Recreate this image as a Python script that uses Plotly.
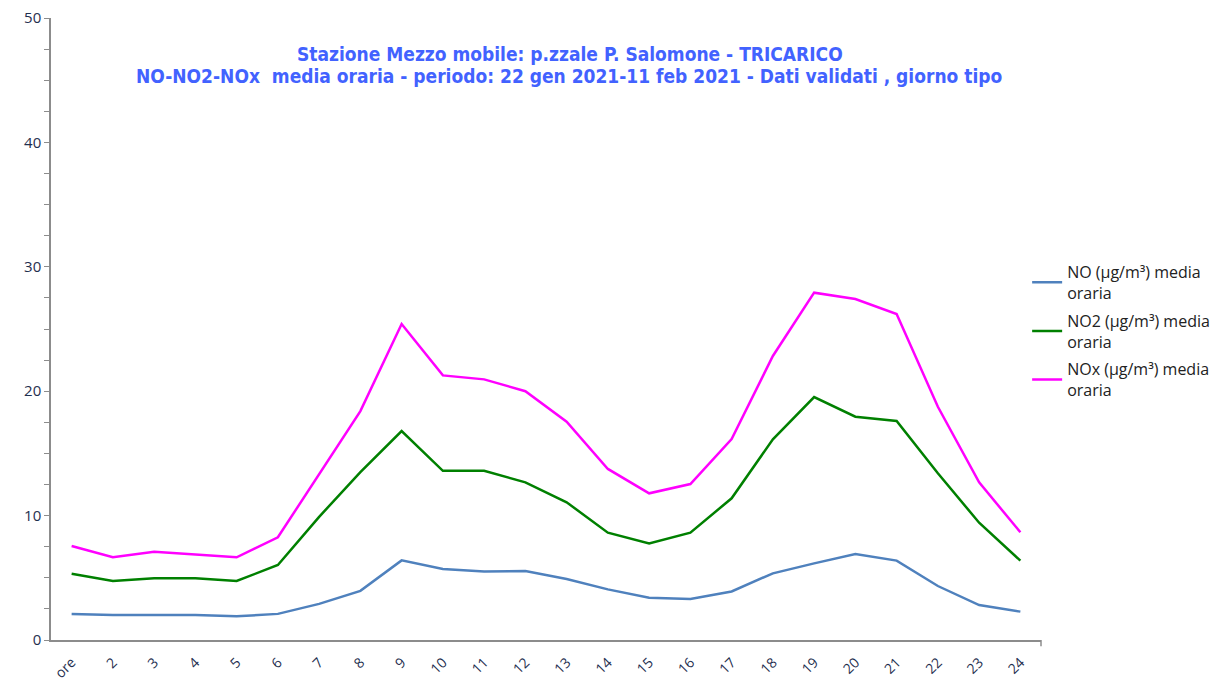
import plotly.graph_objects as go

hours = ["ore"] + [str(i) for i in range(2, 25)]
no_vals = [2.1, 2.0, 2.0, 2.0, 1.9, 2.1, 2.9, 3.95, 6.4, 5.7, 5.5, 5.55,
           4.9, 4.07, 3.4, 3.3, 3.9, 5.36, 6.16, 6.91, 6.38, 4.34, 2.81, 2.28]
no2_vals = [5.33, 4.74, 4.96, 4.96, 4.74, 6.03, 9.9, 13.5, 16.8, 13.6, 13.6, 12.67,
            11.07, 8.63, 7.77, 8.63, 11.39, 16.13, 19.53, 17.95, 17.6, 13.4, 9.43, 6.38]
nox_vals = [7.56, 6.65, 7.1, 6.89, 6.65, 8.26, 13.37, 18.4, 25.4, 21.27, 20.95, 20.0,
            17.55, 13.75, 11.79, 12.54, 16.16, 22.83, 27.92, 27.41, 26.2, 18.75, 12.67, 8.66]

series_names = ["NO (µg/m³) media<br>oraria", "NO2 (µg/m³) media<br>oraria", "NOx (µg/m³) media<br>oraria"]
series_colors = ["#4F81BD", "#008000", "#FF00FF"]

title_lines = ["Stazione Mezzo mobile: p.zzale P. Salomone - TRICARICO",
               "NO-NO2-NOx  media oraria - periodo: 22 gen 2021-11 feb 2021 - Dati validati , giorno tipo"]

fig = go.Figure()
for i, (name, vals, col) in enumerate(zip(series_names, [no_vals, no2_vals, nox_vals], series_colors)):
    fig.add_trace(go.Scatter(x=hours, y=vals, mode="lines", name=name, legendgroup=f"g{i}",
                             line=dict(color=col, width=2.5)))

title_font = dict(family="DejaVu Sans Condensed, DejaVu Sans, sans-serif", size=19, color="#4262FF")
annotations = []
for line, ypos in zip(title_lines, [0.942, 0.907]):
    annotations.append(dict(text="<b>" + line + "</b>", xref="paper", yref="paper",
                            x=0.524, y=ypos, xanchor="center", yanchor="middle",
                            showarrow=False, font=title_font))

fig.update_layout(
    width=1226, height=682,
    margin=dict(l=43, r=193, t=10, b=50),
    paper_bgcolor="white", plot_bgcolor="white",
    font=dict(family="Open Sans, Liberation Sans, sans-serif", size=13, color="#1F2F4F"),
    showlegend=True,
    legend=dict(x=0.986, xanchor="left", y=0.619, yanchor="top",
                font=dict(size=16, color="#222222", family="Open Sans, sans-serif"),
                tracegroupgap=4, itemwidth=30, bgcolor="rgba(0,0,0,0)"),
    annotations=annotations,
)
fig.update_xaxes(type="category", range=[-0.5, 23.5], showline=True, linecolor="#8C8C8C", linewidth=1.5,
                 showgrid=False, ticks="", tickangle=-45, zeroline=False, automargin=False,
                 ticklabeloverflow="allow", ticklabelstandoff=7,
                 tickfont=dict(size=14, color="#1F2F4F"))
fig.update_yaxes(range=[0, 50], dtick=10, showline=True, linecolor="#8C8C8C", linewidth=1.5,
                 showgrid=False, ticks="outside", ticklen=5, tickcolor="#8C8C8C", zeroline=False,
                 automargin=False, ticklabeloverflow="allow",
                 minor=dict(dtick=2.5, ticks="outside", ticklen=5, tickcolor="#8C8C8C"),
                 tickfont=dict(size=15, color="#1F2F4F"))
fig.add_shape(type="line", xref="paper", yref="paper", x0=1, x1=1, y0=0, y1=-0.01,
              line=dict(color="#8C8C8C", width=1.5))

fig.write_html("out.html")
